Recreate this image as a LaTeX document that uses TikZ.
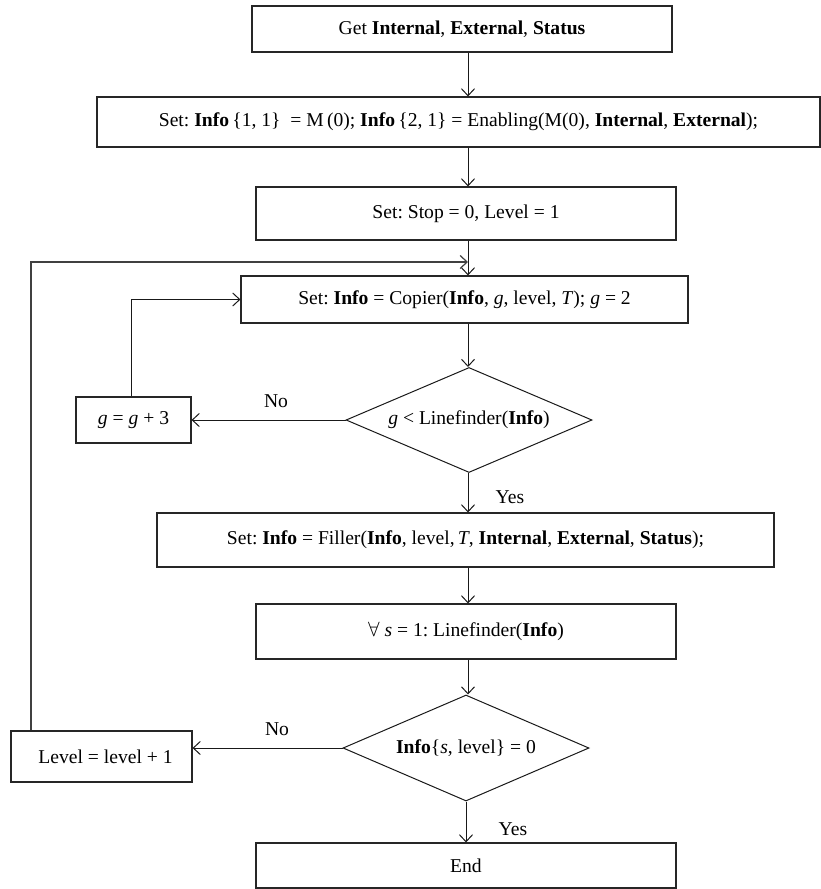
\documentclass[tikz,border=0pt]{standalone}
\usepackage{fontspec}
\setmainfont{Liberation Serif}
\usetikzlibrary{shapes.geometric,arrows.meta}
\frenchspacing
\begin{document}
\begin{tikzpicture}[x=1pt,y=-1pt, font=\fontsize{19.6}{21}\selectfont,
 box/.style={draw=black!85, line width=1.1pt, inner sep=0pt, anchor=center},
 dia/.style={draw=black!90, diamond, shape aspect=2.34, line width=1pt, inner sep=0pt, anchor=center},
 arr/.style={draw=black!90, line width=1pt, -{Straight Barb[length=7pt,width=13pt]}},
 loopline/.style={draw=black!75, line width=1.2pt, -{Straight Barb[length=7pt,width=13pt]}},
 lbl/.style={inner sep=0pt, anchor=center}]
\useasboundingbox (0,0) rectangle (821,889);
\node[box, minimum width=420pt, minimum height=46pt] (b1) at (462,29) {Get \textbf{Internal}, \textbf{External}, \textbf{Status}};
\node[box, minimum width=723pt, minimum height=50pt] (b2) at (458.5,122) {Set: \textbf{Info}\,\{1, 1\}~ = M\,(0); \textbf{Info}\,\{2, 1\} = Enabling(M(0), \textbf{Internal}, \textbf{External});};
\node[box, minimum width=420pt, minimum height=53pt] (b3) at (466,213.5) {Set: Stop = 0, Level = 1};
\node[box, minimum width=447pt, minimum height=47pt] (b4) at (464.5,299.5) {Set: \textbf{Info} = Copier(\textbf{Info}, \textit{g}, level, \textit{T}); \textit{g} = 2};
\node[dia, minimum width=246pt, minimum height=105pt] (d1) at (469,420) {\textit{g} < Linefinder(\textbf{Info})};
\node[box, minimum width=115pt, minimum height=46pt] (gb) at (133.5,420) {\textit{g} = \textit{g} + 3};
\node[box, minimum width=617pt, minimum height=54pt] (f) at (465.5,540) {Set: \textbf{Info} = Filler(\textbf{Info}, level,\,\textit{T}, \textbf{Internal}, \textbf{External}, \textbf{Status});};
\node[box, minimum width=420pt, minimum height=55pt] (l) at (466,631.5) {$\forall$ \textit{s} = 1: Linefinder(\textbf{Info})};
\node[dia, minimum width=246pt, minimum height=106pt] (d2) at (466,748) {\textbf{Info}\{\textit{s}, level\} = 0};
\node[box, minimum width=181pt, minimum height=51pt] (lev) at (101.5,756.5) {\hspace{8pt}Level = level + 1};
\node[box, minimum width=420pt, minimum height=45pt] (e) at (466,865.5) {End};
\node[lbl] (no1) at (276,401) {No};
\node[lbl] (no2) at (277,729) {No};
\node[lbl] (yes1) at (510,497) {Yes};
\node[lbl] (yes2) at (513,829) {Yes};
\coordinate (lp) at (31,262);
\draw[arr] (b1.south -| 468,0) -- (b2.north -| 468,0);
\draw[arr] (b2.south -| 468,0) -- (b3.north -| 468,0);
\draw[arr] (b3.south -| 468,0) -- (b4.north -| 468,0);
\draw[arr] (b4.south -| 468,0) -- (d1.north -| 468,0);
\draw[arr] (d1.south -| 468,0) -- (f.north -| 468,0);
\draw[arr] (f.south -| 468,0) -- (l.north -| 468,0);
\draw[arr] (l.south -| 468,0) -- (d2.north -| 468,0);
\draw[arr] (d2.south) -- (e.north);
\draw[arr] (d1.west) -- (gb.east);
\draw[arr] (d2.west) -- (d2.west -| lev.east);
\draw[arr] (gb.north -| 131,0) |- (b4.west);
\draw[loopline] (lev.north -| lp) -- (lp) -- (lp -| 468,0);
\end{tikzpicture}
\end{document}
